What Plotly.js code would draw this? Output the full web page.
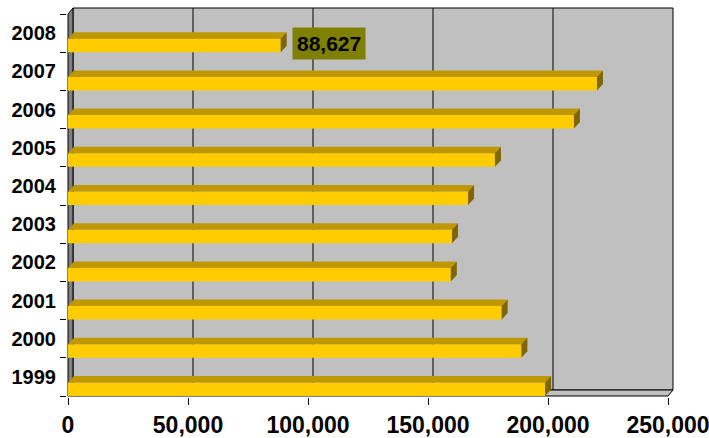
<!DOCTYPE html>
<html>
<head>
<meta charset="utf-8">
<script src="https://cdn.plot.ly/plotly-3.0.1.min.js"></script>
<style>html,body{margin:0;padding:0;background:#fff;}#chart{width:709px;height:438px;}</style>
</head>
<body>
<div id="chart"></div>
<script>
// ---- data ----
const years = ['1999','2000','2001','2002','2003','2004','2005','2006','2007','2008'];
const values = [198800, 188900, 180700, 159500, 160000, 166700, 177900, 210800, 220400, 88627];
const xTicks = [0, 50000, 100000, 150000, 200000, 250000];
const labelIndex = 9; // the labelled bar (2008)

// ---- geometry (pixels -> axis units) ----
const FONT = 'Liberation Sans, Arial, sans-serif';
const frontL = 68, frontR = 668, frontB = 396, frontT = 14;
const xMax = xTicks[xTicks.length - 1];
const kx = (frontR - frontL) / xMax;            // px per value unit
const band = (frontB - frontT) / years.length;  // px per category
const plotL = 67, plotR = 674, plotT = 7, plotB = 397;
const xRange = [-(frontL - plotL) / kx, (plotR - frontL) / kx];
const yRange = [-(plotB - frontB) / band, (frontB - plotT) / band];
const wallDx = 5 / kx, wallDy = 6 / band;
const barDx = 6 / kx, barDy = 6.5 / band;
const barH = 13.5 / band;
const nCat = years.length;

const pos = years.map((_, i) => i);

const traces = [];
traces.push({
  type: 'bar', orientation: 'h', x: values, y: pos, base: 0,
  width: barH, offset: 0,
  marker: {color: '#FFCC00', line: {width: 0}},
  hoverinfo: 'skip'
});
values.forEach((v, i) => {
  const y0 = i + barH, y1 = i + barH + barDy;
  traces.push({
    type: 'scatter', mode: 'none', fill: 'toself', fillcolor: '#BF9800',
    x: [0, v, v + barDx, barDx, 0],
    y: [y0, y0, y1, y1, y0], hoverinfo: 'skip'
  });
  traces.push({
    type: 'scatter', mode: 'none', fill: 'toself', fillcolor: '#806600',
    x: [v, v + barDx, v + barDx, v, v],
    y: [i, i + barDy, y1, y0, i], hoverinfo: 'skip'
  });
});

function path(pts) {
  return 'M' + pts.map(p => p[0] + ',' + p[1]).join(' L') + ' Z';
}
const shapes = [];
// back wall
shapes.push({type: 'path', xref: 'x', yref: 'y', layer: 'below',
  path: path([[wallDx, wallDy], [xMax + wallDx, wallDy], [xMax + wallDx, nCat + wallDy], [wallDx, nCat + wallDy]]),
  fillcolor: '#C0C0C0', line: {color: '#000', width: 1}});
// gridlines on back wall
xTicks.slice(1, -1).forEach(t => {
  shapes.push({type: 'line', xref: 'x', yref: 'y', layer: 'below',
    x0: t + wallDx, x1: t + wallDx, y0: wallDy, y1: nCat + wallDy,
    line: {color: '#000', width: 1}});
});
// floor
shapes.push({type: 'path', xref: 'x', yref: 'y', layer: 'below',
  path: path([[0, 0], [xMax, 0], [xMax + wallDx, wallDy], [wallDx, wallDy]]),
  fillcolor: '#C0C0C0', line: {color: '#000', width: 1}});
// left wall
shapes.push({type: 'path', xref: 'x', yref: 'y', layer: 'below',
  path: path([[0, 0], [wallDx, wallDy], [wallDx, nCat + wallDy], [0, nCat]]),
  fillcolor: '#808080', line: {color: '#000', width: 1}});

const layout = {
  width: 709, height: 438,
  margin: {l: plotL, r: 709 - plotR, t: plotT, b: 438 - plotB, pad: 0},
  paper_bgcolor: '#fff', plot_bgcolor: 'rgba(0,0,0,0)',
  showlegend: false,
  font: {family: FONT, color: '#000'},
  xaxis: {
    range: xRange, tickmode: 'array', tickvals: xTicks, tickformat: ',d',
    ticks: 'outside', ticklen: 7, tickcolor: '#000', tickwidth: 1,
    ticklabeloverflow: 'allow',
    showgrid: false, zeroline: false, showline: false, fixedrange: true,
    tickfont: {family: FONT, size: 23, color: '#000', weight: 'bold'}
  },
  yaxis: {
    range: yRange, tickmode: 'array', tickvals: pos.map(p => p + 0.5), ticktext: years,
    ticks: 'outside', ticklen: 6, tickcolor: 'rgba(0,0,0,0)',
    ticklabeloverflow: 'allow',
    minor: {tickmode: 'array', tickvals: years.map((_, i) => i).concat([nCat]),
            ticks: 'outside', ticklen: 6, tickcolor: '#000', tickwidth: 1, showgrid: false},
    showgrid: false, zeroline: false, showline: false, fixedrange: true,
    tickfont: {family: FONT, size: 20, color: '#000', weight: 'bold'}
  },
  shapes: shapes,
  annotations: [{
    x: values[labelIndex], y: labelIndex + 0.215, xref: 'x', yref: 'y',
    text: values[labelIndex].toLocaleString('en-US'), showarrow: false,
    xanchor: 'left', yanchor: 'middle', xshift: 11,
    bgcolor: '#808000', borderpad: 4,
    font: {family: FONT, size: 21, color: '#000', weight: 'bold'}
  }]
};

Plotly.newPlot('chart', traces, layout, {staticPlot: true, displayModeBar: false});
</script>
</body>
</html>
